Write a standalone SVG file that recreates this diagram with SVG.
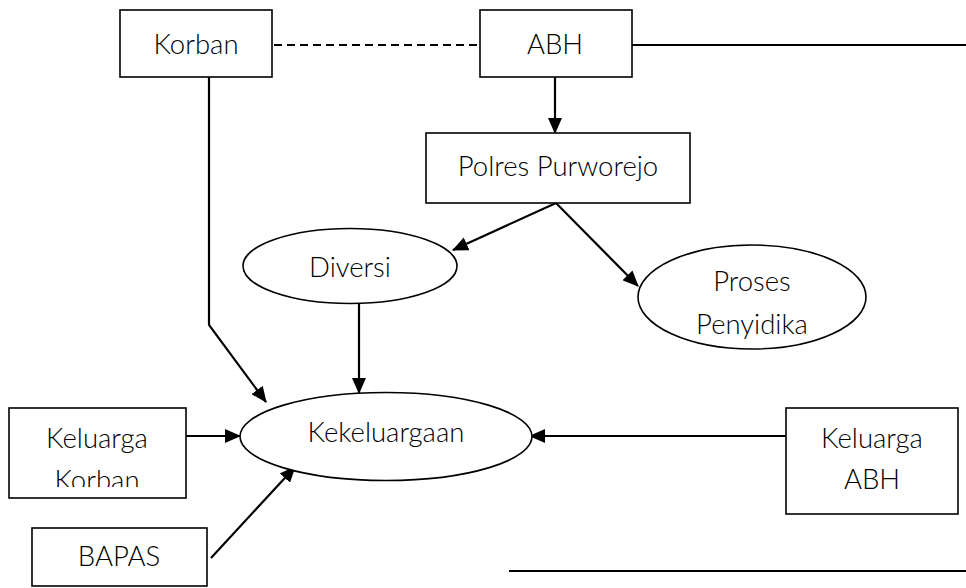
<svg xmlns="http://www.w3.org/2000/svg" width="966" height="588" viewBox="0 0 966 588">
  <style>
    .box { fill: #fff; stroke: #000; stroke-width: 1.6; }
    .ell { fill: #fff; stroke: #000; stroke-width: 1.6; }
    .lbl { font-family: Lato, "Open Sans", sans-serif; font-size: 27.5px; font-weight: 300; fill: #000; text-anchor: middle; }
    .conn { fill: none; stroke: #000; stroke-width: 2.2; }
    .arr { marker-end: url(#head); }
  </style>
  <defs>
    <marker id="head" viewBox="0 0 16 14" refX="15" refY="7" markerWidth="16" markerHeight="14" markerUnits="userSpaceOnUse" orient="auto">
      <path d="M0,0 L16,7 L0,14 Z" fill="#000"/>
    </marker>
    <clipPath id="kkClip">
      <rect x="9" y="408" width="177" height="79"/>
    </clipPath>
  </defs>

  <rect width="966" height="588" fill="#fff"/>

  <g id="connectors">
    <line class="conn" x1="274" y1="45" x2="478" y2="45" stroke-dasharray="8,5" stroke-width="1.6"/>
    <line class="conn" x1="632" y1="45" x2="966" y2="45" stroke-width="1.6"/>
    <line class="conn arr" x1="555" y1="77" x2="555" y2="133"/>
    <line class="conn arr" x1="556" y1="203" x2="453" y2="250"/>
    <line class="conn arr" x1="556" y1="203" x2="638" y2="286"/>
    <polyline class="conn arr" points="209,77 209,325 266,402"/>
    <line class="conn arr" x1="359" y1="304" x2="359" y2="393"/>
    <line class="conn arr" x1="186" y1="436" x2="240" y2="436"/>
    <line class="conn arr" x1="211" y1="558" x2="295" y2="467"/>
    <line class="conn arr" x1="786" y1="436" x2="530" y2="436"/>
    <line class="conn" x1="509" y1="571" x2="966" y2="571" stroke-width="1.6"/>
  </g>

  <g id="korban">
    <rect class="box" x="120" y="10" width="152" height="67"/>
    <text class="lbl" x="196" y="54">Korban</text>
  </g>
  <g id="abh">
    <rect class="box" x="480" y="10" width="152" height="67"/>
    <text class="lbl" x="555" y="54">ABH</text>
  </g>
  <g id="polres">
    <rect class="box" x="426" y="133" width="264" height="70"/>
    <text class="lbl" x="558" y="176">Polres Purworejo</text>
  </g>
  <g id="diversi">
    <ellipse class="ell" cx="350" cy="266" rx="107" ry="37.5"/>
    <text class="lbl" x="350" y="277">Diversi</text>
  </g>
  <g id="proses">
    <ellipse class="ell" cx="752" cy="297" rx="114" ry="52"/>
    <text class="lbl" x="752" y="291">Proses</text>
    <text class="lbl" x="752" y="334">Penyidika</text>
  </g>
  <g id="kekeluargaan">
    <ellipse class="ell" cx="386" cy="436.5" rx="146" ry="44"/>
    <text class="lbl" x="386" y="442">Kekeluargaan</text>
  </g>
  <g id="keluarga-korban">
    <rect class="box" x="9" y="408" width="177" height="90"/>
    <g clip-path="url(#kkClip)">
      <text class="lbl" x="97" y="448">Keluarga</text>
      <text class="lbl" x="97" y="490">Korban</text>
    </g>
  </g>
  <g id="keluarga-abh">
    <rect class="box" x="786" y="408" width="172" height="106"/>
    <text class="lbl" x="872" y="448">Keluarga</text>
    <text class="lbl" x="872" y="489">ABH</text>
  </g>
  <g id="bapas">
    <rect class="box" x="32" y="528" width="175" height="58"/>
    <text class="lbl" x="119" y="566">BAPAS</text>
  </g>
</svg>
